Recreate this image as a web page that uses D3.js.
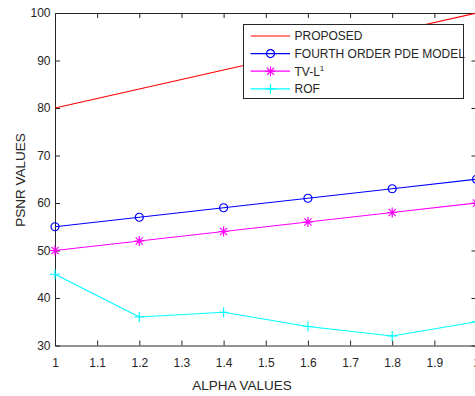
<!DOCTYPE html>
<html>
<head>
<meta charset="utf-8">
<script src="https://cdn.jsdelivr.net/npm/d3@7"></script>
<style>
  body { margin: 0; background: #fff; }
  svg text { font-family: "Liberation Sans", Arial, sans-serif; fill: #262626; }
  .axis path, .axis line { stroke: #262626; stroke-width: 1; }
</style>
</head>
<body>
<div id="chart"></div>
<script>
// data
const alphaValues = [1, 1.2, 1.4, 1.6, 1.8, 2];
const proposed = [80, 84, 88, 92, 96, 100];
const fourthOrder = [55, 57, 59, 61, 63, 65];
const tvL1 = [50, 52, 54, 56, 58, 60];
const rof = [45, 36, 37, 34, 32, 35];
const xTicks = [1, 1.1, 1.2, 1.3, 1.4, 1.5, 1.6, 1.7, 1.8, 1.9, 2];
const yTicks = [30, 40, 50, 60, 70, 80, 90, 100];

const series = [
  { name: "PROPOSED", values: proposed, color: "#ff0000", marker: "none" },
  { name: "FOURTH ORDER PDE MODEL", values: fourthOrder, color: "#0000ff", marker: "circle" },
  { name: "TV-L", sup: "1", values: tvL1, color: "#ff00ff", marker: "star" },
  { name: "ROF", values: rof, color: "#00ffff", marker: "plus" }
];

const width = 475, height = 396;
const margin = { top: 13, right: -1.5, bottom: 50.5, left: 55 };
const w = width - margin.left - margin.right;
const h = height - margin.top - margin.bottom;

const svg = d3.select("#chart").append("svg").attr("width", width).attr("height", height);
const g = svg.append("g").attr("transform", "translate(" + margin.left + "," + margin.top + ")");

const x = d3.scaleLinear().domain([1, 2]).range([0, w]);
const y = d3.scaleLinear().domain([30, 100]).range([h, 0]);

// axes, ticks pointing inwards
g.append("g").attr("class", "axis").attr("transform", "translate(0," + h + ")")
  .call(d3.axisBottom(x).tickValues(xTicks).tickSize(-5).tickSizeOuter(0).tickPadding(12.5).tickFormat(d3.format("")))
  .selectAll("text").style("font-size", "12px");
g.append("g").attr("class", "axis")
  .call(d3.axisTop(x).tickValues(xTicks).tickSize(-5).tickSizeOuter(0).tickFormat(""));
g.append("g").attr("class", "axis")
  .call(d3.axisLeft(y).tickValues(yTicks).tickSize(-5).tickSizeOuter(0).tickPadding(4.5))
  .selectAll("text").style("font-size", "12px");
g.append("g").attr("class", "axis").attr("transform", "translate(" + w + ",0)")
  .call(d3.axisRight(y).tickValues(yTicks).tickSize(-5).tickSizeOuter(0).tickFormat(""));
g.selectAll(".axis text").attr("fill", "#262626");

// axis titles
svg.append("text").attr("x", 242).attr("y", 390).attr("text-anchor", "middle")
  .style("font-size", "13.5px").text("ALPHA VALUES");
svg.append("text").attr("transform", "translate(25,180) rotate(-90)").attr("text-anchor", "middle")
  .style("font-size", "13.5px").text("PSNR VALUES");

function drawMarker(sel, type, color) {
  if (type === "circle") {
    sel.append("circle").attr("r", 4).attr("fill", "none").attr("stroke", color).attr("stroke-width", 1.2);
  } else if (type === "star") {
    const s = 5, d = 3.6;
    sel.append("path").attr("d", "M" + (-s) + ",0H" + s + "M0," + (-s) + "V" + s +
      "M" + (-d) + "," + (-d) + "L" + d + "," + d + "M" + (-d) + "," + d + "L" + d + "," + (-d))
      .attr("stroke", color).attr("stroke-width", 1.2);
  } else if (type === "plus") {
    const s = 5;
    sel.append("path").attr("d", "M" + (-s) + ",0H" + s + "M0," + (-s) + "V" + s)
      .attr("stroke", color).attr("stroke-width", 1.2);
  }
}

const line = d3.line().x((d, i) => x(alphaValues[i])).y(d => y(d));

series.forEach(s => {
  g.append("path").datum(s.values).attr("fill", "none").attr("stroke", s.color)
    .attr("stroke-width", 1.2).attr("d", line);
  if (s.marker !== "none") {
    s.values.forEach((v, i) => {
      const m = g.append("g").attr("transform", "translate(" + x(alphaValues[i]) + "," + y(v) + ")");
      drawMarker(m, s.marker, s.color);
    });
  }
});

// legend
const lg = svg.append("g").attr("transform", "translate(243.5,24.5)");
lg.append("rect").attr("width", 220).attr("height", 74).attr("fill", "#fff")
  .attr("stroke", "#262626").attr("stroke-width", 1);
series.forEach((s, i) => {
  const ly = 11.5 + i * 17.6;
  lg.append("line").attr("x1", 7).attr("x2", 46.5).attr("y1", ly).attr("y2", ly)
    .attr("stroke", s.color).attr("stroke-width", 1.2);
  const m = lg.append("g").attr("transform", "translate(27," + ly + ")");
  drawMarker(m, s.marker, s.color);
  const t = lg.append("text").attr("x", 51).attr("y", ly + 4.3).style("font-size", "12px").text(s.name);
  if (s.sup) t.append("tspan").attr("dy", -5).style("font-size", "8px").text(s.sup);
});
</script>
</body>
</html>
